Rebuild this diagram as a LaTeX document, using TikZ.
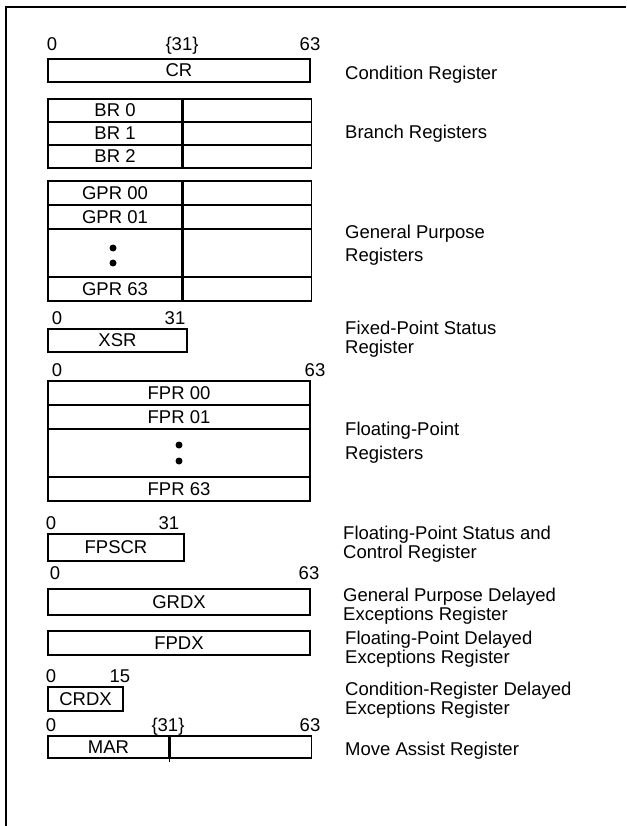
\documentclass[tikz,border=0pt]{standalone}
\usepackage{fontspec}
\setmainfont{Liberation Sans}
\usepackage{tikz}
\usetikzlibrary{positioning}

\begin{document}
\begin{tikzpicture}[
  x=1pt, y=-1pt,
  reg/.style={draw, line width=1.2pt, inner sep=0pt, minimum height=23pt,
    font=\fontsize{18.5}{19}\selectfont},
  bitno/.style={anchor=base, inner sep=0pt, font=\fontsize{18.5}{19}\selectfont},
  desc/.style={anchor=west, align=left, inner sep=0pt,
    font=\fontsize{18.5}{19}\selectfont}
]
  \useasboundingbox (0, 0) rectangle (626, 826);

  % Frame
  \draw[line width=2pt] (6, 826) -- (6, 7.5) -- (626, 7.5);

  % Condition register
  \node[bitno] (crlo) at (52, 51) {0};
  \node[bitno] (crmid) at (182, 51) {\{31\}};
  \node[bitno] (crhi) at (310, 51) {63};
  \node[reg, minimum width=262pt] (cr) at (179, 70.5) {CR};
  \node[desc] (crdesc) at (345, 75) {Condition Register};

  % Branch registers
  \node[reg, minimum width=134pt] (br0) at (115, 110.5) {BR 0};
  \node[reg, minimum width=128pt, right=0pt of br0] (br0r) {};
  \node[reg, minimum width=134pt] (br1) at (115, 133.5) {BR 1};
  \node[reg, minimum width=128pt, right=0pt of br1] (br1r) {};
  \node[reg, minimum width=134pt] (br2) at (115, 156.5) {BR 2};
  \node[reg, minimum width=128pt, right=0pt of br2] (br2r) {};
  \node[desc] (brdesc) at (345, 134) {Branch Registers};

  % General purpose registers
  \node[reg, minimum width=134pt, minimum height=24pt] (gpr00) at (115, 193) {GPR 00};
  \node[reg, minimum width=128pt, minimum height=24pt, right=0pt of gpr00] (gpr00r) {};
  \node[reg, minimum width=134pt, minimum height=24pt] (gpr01) at (115, 217) {GPR 01};
  \node[reg, minimum width=128pt, minimum height=24pt, right=0pt of gpr01] (gpr01r) {};
  \node[reg, minimum width=134pt, minimum height=48pt] (gprdots) at (115, 253) {};
  \node[reg, minimum width=128pt, minimum height=48pt, right=0pt of gprdots] (gprdotsr) {};
  \node[reg, minimum width=134pt, minimum height=24pt] (gpr63) at (115, 289) {GPR 63};
  \node[reg, minimum width=128pt, minimum height=24pt, right=0pt of gpr63] (gpr63r) {};
  \fill (113, 248) circle (3.5pt) (113, 263) circle (3.5pt);
  \node[desc] (gprdesc) at (345, 245.5) {General Purpose\\[4pt]Registers};

  % Fixed-point status register
  \node[bitno] (xsrlo) at (57, 324.5) {0};
  \node[bitno] (xsrhi) at (175, 324.5) {31};
  \node[reg, minimum width=139pt] (xsr) at (117.5, 340.5) {XSR};
  \node[desc] (xsrdesc) at (345, 339) {Fixed-Point Status\\Register};

  % Floating-point registers
  \node[bitno] (fprlo) at (57, 376.5) {0};
  \node[bitno] (fprhi) at (315, 376.5) {63};
  \node[reg, minimum width=262pt, minimum height=24pt] (fpr00) at (179, 393) {FPR 00};
  \node[reg, minimum width=262pt, minimum height=24pt] (fpr01) at (179, 417) {FPR 01};
  \node[reg, minimum width=262pt, minimum height=48pt] (fprdots) at (179, 453) {};
  \node[reg, minimum width=262pt, minimum height=24pt] (fpr63) at (179, 489) {FPR 63};
  \fill (179, 445) circle (3.5pt) (179, 461) circle (3.5pt);
  \node[desc] (fprdesc) at (345, 443) {Floating-Point\\[5pt]Registers};

  % Floating-point status and control register
  \node[bitno] (fpscrlo) at (51, 529.5) {0};
  \node[bitno] (fpscrhi) at (169, 529.5) {31};
  \node[reg, minimum width=136pt, minimum height=27pt] (fpscr) at (116, 547.5) {FPSCR};
  \node[desc] (fpscrdesc) at (343, 544) {Floating-Point Status and\\Control Register};

  % Delayed exceptions registers
  \node[bitno] (grdxlo) at (55, 579.5) {0};
  \node[bitno] (grdxhi) at (309, 579.5) {63};
  \node[reg, minimum width=262pt, minimum height=26pt] (grdx) at (179, 602) {GRDX};
  \node[desc] (grdxdesc) at (343, 606) {General Purpose Delayed\\Exceptions Register};
  \node[reg, minimum width=262pt, minimum height=24pt] (fpdx) at (179, 643) {FPDX};
  \node[desc] (fpdxdesc) at (345, 649.5) {Floating-Point Delayed\\Exceptions Register};
  \node[bitno] (crdxlo) at (51, 682.5) {0};
  \node[bitno] (crdxhi) at (120, 682.5) {15};
  \node[reg, minimum width=75pt, minimum height=24pt] (crdx) at (85.5, 699) {CRDX};
  \node[desc] (crdxdesc) at (345, 700) {Condition-Register Delayed\\Exceptions Register};

  % Move assist register
  \node[bitno] (marlo) at (51, 731.5) {0};
  \node[bitno] (marmid) at (168, 731.5) {\{31\}};
  \node[bitno] (marhi) at (310, 731.5) {63};
  \node[reg, minimum width=121pt, minimum height=22pt] (mar) at (108.5, 747) {MAR};
  \node[reg, minimum width=141pt, minimum height=22pt, right=0pt of mar] (marr) {};
  \draw[line width=1.2pt] (mar.south east) -- ++(0, 3);
  \node[desc] (mardesc) at (345, 751) {Move Assist Register};
\end{tikzpicture}
\end{document}
